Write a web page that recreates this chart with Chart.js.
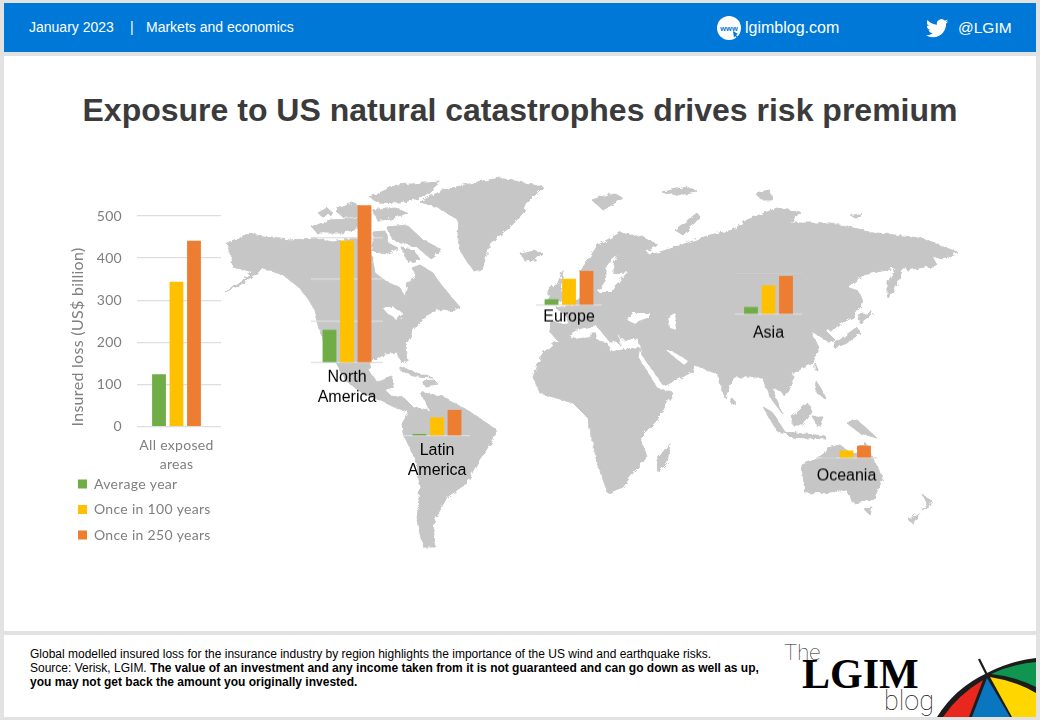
<!DOCTYPE html>
<html>
<head>
<meta charset="utf-8">
<title>Exposure to US natural catastrophes drives risk premium</title>
<script src="https://cdn.jsdelivr.net/npm/chart.js@4"></script>
<style>
    html, body { margin: 0; padding: 0; }
    body { width: 1040px; height: 720px; background: #e2e2e2; position: relative; overflow: hidden; font-family: "Liberation Sans", Arial, sans-serif; }
    .panel { position: absolute; background: #fff; }
    .txt { position: absolute; white-space: nowrap; }
    canvas { position: absolute; }
    svg { position: absolute; left: 0; top: 0; }
</style>
</head>
<body>
<div class="panel" style="left:4px;top:3px;width:1032px;height:49px;background:#0078d7"></div>
<div class="panel" style="left:4px;top:56px;width:1032px;height:575px"></div>
<div class="panel" style="left:4px;top:635px;width:1032px;height:82px"></div>

<div class="txt" style="left:29px;top:19px;font-size:14px;color:#fff">January 2023</div>
<div class="txt" style="left:130px;top:19px;font-size:14px;color:#fff">|</div>
<div class="txt" style="left:146px;top:19px;font-size:14px;color:#fff">Markets and economics</div>
<div class="txt" style="left:745px;top:19px;font-size:16px;color:#fff">lgimblog.com</div>
<div class="txt" style="left:958px;top:19px;font-size:15.5px;color:#fff">@LGIM</div>
<div class="txt" style="left:0;width:1040px;text-align:center;top:92px;font-size:32px;font-weight:bold;color:#3b3b3b">Exposure to US natural catastrophes drives risk premium</div>

<div class="txt" style="left:30px;top:647px;font-size:12px;color:#000">Global modelled insured loss for the insurance industry by region highlights the importance of the US wind and earthquake risks.</div>
<div class="txt" style="left:30px;top:661px;font-size:12px;color:#000">Source: Verisk, LGIM. <b>The value of an investment and any income taken from it is not guaranteed and can go down as well as up,</b></div>
<div class="txt" style="left:30px;top:675px;font-size:12px;color:#000"><b>you may not get back the amount you originally invested.</b></div>

<svg width="1040" height="720" viewBox="0 0 1040 720">
    <defs>
        <filter id="rough" x="-5%" y="-5%" width="110%" height="110%">
            <feTurbulence type="fractalNoise" baseFrequency="0.2" numOctaves="3" seed="4" result="n"/>
            <feDisplacementMap in="SourceGraphic" in2="n" scale="5"/>
        </filter>
    </defs>
    <!-- header icons -->
    <circle cx="729" cy="28" r="12" fill="#fff"/>
    <text x="729" y="30.5" text-anchor="middle" font-size="7.5" font-weight="bold" fill="#0078d7" font-family="Liberation Sans">www</text>
    <path d="M733 31l5 3-2 1 2 2-1 1-2-2-1 2z" fill="#0078d7"/>
    <g transform="translate(926,17) scale(0.93)"><path fill="#fff" d="M23.953 4.57a10 10 0 01-2.825.775 4.958 4.958 0 002.163-2.723c-.951.555-2.005.959-3.127 1.184a4.92 4.92 0 00-8.384 4.482C7.69 8.095 4.067 6.13 1.64 3.162a4.822 4.822 0 00-.666 2.475c0 1.71.87 3.213 2.188 4.096a4.904 4.904 0 01-2.228-.616v.06a4.923 4.923 0 003.946 4.827 4.996 4.996 0 01-2.212.085 4.936 4.936 0 004.604 3.417 9.867 9.867 0 01-6.102 2.105c-.39 0-.779-.023-1.17-.067a13.995 13.995 0 007.557 2.209c9.053 0 13.998-7.496 13.998-13.985 0-.21 0-.42-.015-.63A9.935 9.935 0 0024 4.59z"/></g>

    <!-- world map backdrop, traced by hand -->
    <g filter="url(#rough)">
    <g fill="#c6c6c6" stroke="#c6c6c6" stroke-width="1" stroke-linejoin="round">
        <!-- North and Central America -->
        <polygon points="227,243 250,233 263,237 290,240 313,238 333,242 353,238 363,242 372,257 375,273 387,282 400,288 405,297 408,283 417,277 412,268 420,265 433,273 440,283 452,298 460,307 437,310 423,317 413,330 405,347 407,360 402,363 397,352 380,355 370,363 368,370 377,382 393,377 392,387 385,390 391,396 404,398 414,408 424,409 428,414 418,418 408,411 396,408 382,401 364,394 346,381 336,363 326,350 320,330 315,310 310,302 300,288 283,275 263,268 240,285 225,292 253,272 233,267 230,253"/>
        <!-- Arctic islands -->
        <polygon points="387,227 407,225 423,240 442,250 430,258 417,247 393,240"/>
        <polygon points="373,232 385,231 388,243 398,248 386,254 373,252"/>
        <polygon points="402,248 414,250 420,260 408,262"/>
        <polygon points="370,197 397,185 440,182 423,197 400,203 377,202"/>
        <polygon points="312,227 330,220 360,218 367,227 340,233 317,233"/>
        <polygon points="318,213 327,208 333,213 323,217"/>
        <polygon points="335,210 353,203 368,210 363,217 343,217"/>
        <polygon points="373,210 393,207 407,213 387,220 377,220"/>
        <polygon points="443,300 460,307 450,312 443,308"/>
        <polygon points="400,367 417,373 433,378 417,377 400,370"/>
        <polygon points="422,381 434,380 438,384 425,386"/>
        <!-- Greenland, Iceland -->
        <polygon points="420,202 443,190 473,183 500,178 543,187 527,203 523,213 510,227 490,243 482,270 475,272 468,263 460,250 457,233 458,220 437,207"/>
        <polygon points="520,253 533,250 542,253 535,260 525,261"/>
        <!-- South America -->
        <polygon points="430,410 420,392 443,397 467,410 497,430 493,440 477,463 467,483 447,497 433,523 435,547 423,547 417,520 420,487 417,463 403,433 402,423 410,412"/>
        <!-- Eurasia -->
        <polygon points="580,272 598,245 620,233 643,237 658,245 645,252 650,255 673,248 710,235 733,230 747,220 777,208 800,212 790,223 830,223 877,233 920,238 957,252 947,257 933,258 937,265 907,270 904,265 897,285 888,298 888,282 896,268 863,275 847,287 858,291 863,303 853,317 830,330 825,330 835,340 830,343 810,330 818,347 813,363 793,373 792,385 785,397 780,390 772,388 782,413 770,397 762,377 733,377 725,398 717,373 694,365 692,372 664,386 642,355 640,345 638,338 622,340 618,332 620,345 612,337 606,325 617,342 610,342 596,325 582,328 572,332 570,340 557,340 550,332 551,322 570,325 566,315 556,308 572,305 580,298 590,292"/>
        <polygon points="563,270 560,290 568,300 547,302 557,285"/>
        <polygon points="548,288 557,285 555,295 548,295"/>
        <polygon points="591,333 596,333 596,342 591,342"/>
        <!-- polar islands -->
        <polygon points="592,200 613,193 623,198 603,210"/>
        <polygon points="662,192 687,187 698,192 677,195"/>
        <polygon points="675,230 697,213 700,217 683,235"/>
        <polygon points="755,193 770,190 772,200 762,200"/>
        <polygon points="850,215 863,215 857,218"/>
        <!-- Africa and Madagascar -->
        <polygon points="557,341 583,337 607,343 610,352 640,347 638,357 657,388 673,393 657,420 640,437 647,457 635,470 623,487 608,493 597,463 592,437 587,417 573,403 540,393 533,377 543,353"/>
        <polygon points="670,443 667,463 658,472 657,460"/>
        <!-- Asia islands -->
        <polygon points="763,407 772,412 785,432 778,432"/>
        <polygon points="792,417 808,403 812,412 803,425 793,425"/>
        <polygon points="785,432 825,436 826,439 790,437"/>
        <polygon points="813,417 823,417 818,428"/>
        <polygon points="847,423 857,420 877,438 860,433"/>
        <polygon points="815,380 820,387 827,400 817,393"/>
        <polygon points="833,345 857,327 860,333 847,343 835,348"/>
        <polygon points="858,315 873,313 860,323"/>
        <polygon points="815,363 818,370 815,370"/>
        <polygon points="732,398 736,403 732,405"/>
        <!-- Australia, Tasmania, New Zealand -->
        <polygon points="802,465 822,457 827,448 840,445 853,455 865,442 870,453 883,478 873,500 853,503 847,490 830,492 805,493"/>
        <polygon points="863,508 872,507 870,515"/>
        <polygon points="923,495 933,502 922,510 927,503"/>
        <polygon points="920,512 913,523 908,520"/>
    </g>
    <g fill="#fff">
        <!-- inland seas -->
        <polygon points="618,255 607,265 606,280 598,292 612,292 620,280 628,272 612,274 614,262"/>
        <polygon points="627,320 633,313 652,313 647,318 633,323"/>
        <polygon points="668,317 675,313 677,330 670,328"/>
        <polygon points="667,351 672,351 688,361 684,365 678,360"/>
        <polygon points="383,308 393,307 403,313 397,320 387,313"/>
    </g>
    </g>

    <!-- blog logo: umbrella -->
    <path d="M937 717 Q955 688 987 673 Q1010 661 1036 658 L1036 717 Z" fill="#1c1c1c"/>
    <path d="M991 674 Q1012 664 1036 662 L1036 687 Q1014 676 991 674 Z" fill="#0f9550"/>
    <path d="M990 677 Q1016 681 1036 693 L1036 717 L1012 717 Z" fill="#ffd600"/>
    <path d="M987 678 L1010 717 L972 717 Z" fill="#0a76bf"/>
    <path d="M983 680 L969 717 L943 717 Q958 695 983 680 Z" fill="#e8281f"/>
    <path d="M979 659 L987 675" stroke="#1c1c1c" stroke-width="2.2" fill="none"/>
</svg>

<div class="txt" style="left:784px;top:640px;font-size:22px;font-family:Roboto;font-weight:100;color:#222">The</div>
<div class="txt" style="left:802px;top:650px;font-size:42px;font-family:'Liberation Serif';font-weight:bold;color:#000">LGIM</div>
<div class="txt" style="left:884px;top:685px;font-size:27px;font-family:Roboto;font-weight:100;color:#222">blog</div>

<canvas id="allAreas" style="left:62px;top:208px"></canvas>
<canvas id="northAmerica"></canvas>
<canvas id="europe"></canvas>
<canvas id="latinAmerica"></canvas>
<canvas id="asia"></canvas>
<canvas id="oceania"></canvas>

<script>
const seriesNames = ['Average year', 'Once in 100 years', 'Once in 250 years'];
const seriesColors = ['#70ad47', '#ffc000', '#ed7d31'];

// insured loss, US$ billion: average / 100 years / 250 years
const allAreas = [124, 344, 441];
const northAmerica = [79, 292, 377];
const europe = [15, 64, 83];
const latinAmerica = [5, 45, 63];
const asia = [18, 70, 93];
const oceania = [2, 19, 31];

const yTicks = [0, 100, 200, 300, 400, 500];

const PX_PER_UNIT = 0.418;
const BAR_PITCH = 17.5;
const GRID_COLOR = '#dedede';
const MAIN_FONT = 'Lato';
const GREY = '#7f7f7f';

function barDatasets(values) {
    return seriesNames.map((name, i) => ({
        label: name,
        data: [values[i]],
        backgroundColor: seriesColors[i]
    }));
}

function drawRegion({id, values, lines, left, base, width, axisMax, labelGap}) {
    const canvas = document.getElementById(id);
    const plotH = axisMax * PX_PER_UNIT;
    const labelH = 62;
    canvas.style.left = left + 'px';
    canvas.style.top = (base - plotH) + 'px';
    canvas.style.width = width + 'px';
    canvas.style.height = (plotH + labelH) + 'px';

    new Chart(canvas.getContext('2d'), {
        type: 'bar',
        data: {labels: [lines], datasets: barDatasets(values)},
        options: {
            responsive: false,
            animation: false,
            layout: {padding: 0},
            categoryPercentage: BAR_PITCH * 3 / width,
            barPercentage: 0.79,
            plugins: {legend: {display: false}, tooltip: {enabled: false}},
            scales: {
                x: {
                    grid: {display: false, drawTicks: false},
                    border: {display: false},
                    ticks: {color: '#000', font: {family: 'Liberation Sans', size: 16, lineHeight: 1.22}, padding: labelGap, maxRotation: 0},
                    afterFit: s => { s.height = labelH; s.paddingLeft = 0; s.paddingRight = 0; }
                },
                y: {
                    min: 0,
                    max: axisMax,
                    border: {display: false},
                    ticks: {display: false, stepSize: 100},
                    grid: {
                        drawTicks: false,
                        lineWidth: 1.2,
                        color: c => c.tick.value % 100 === 0 ? GRID_COLOR : 'transparent'
                    },
                    afterFit: s => { s.width = 0; }
                }
            }
        }
    });
}

// main chart with axis, title and legend
function drawMain() {
    const canvas = document.getElementById('allAreas');
    canvas.style.width = '159px';
    canvas.style.height = '357px';
    new Chart(canvas.getContext('2d'), {
        type: 'bar',
        data: {labels: [['All exposed', 'areas']], datasets: barDatasets(allAreas)},
        options: {
            responsive: false,
            animation: false,
            layout: {padding: {top: 8}},
            categoryPercentage: BAR_PITCH * 3 / 84,
            barPercentage: 0.79,
            plugins: {
                tooltip: {enabled: false},
                legend: {
                    position: 'bottom',
                    align: 'start',
                    labels: {
                        boxWidth: 9,
                        boxHeight: 9,
                        padding: 11.5,
                        color: GREY,
                        font: {family: MAIN_FONT, size: 14}
                    }
                }
            },
            scales: {
                x: {
                    grid: {display: false, drawTicks: false},
                    border: {display: false},
                    ticks: {color: GREY, font: {family: MAIN_FONT, size: 14, lineHeight: 1.4}, padding: 9, maxRotation: 0},
                    afterFit: s => { s.height = 52; s.paddingLeft = 0; s.paddingRight = 0; }
                },
                y: {
                    min: 0,
                    max: 500,
                    afterBuildTicks: s => { s.ticks = yTicks.map(v => ({value: v})); },
                    border: {display: false},
                    grid: {drawTicks: false, color: GRID_COLOR, lineWidth: 1.2},
                    ticks: {color: GREY, font: {family: MAIN_FONT, size: 14}, padding: 15},
                    title: {
                        display: true,
                        text: 'Insured loss (US$ billion)',
                        align: 'start',
                        color: GREY,
                        font: {family: MAIN_FONT, size: 16},
                        padding: {top: 6, bottom: 0}
                    },
                    afterFit: s => { s.width = 75; s.paddingTop = 0; s.paddingBottom = 0; }
                }
            }
        },
        plugins: [{
            id: 'nudge',
            // the reference text is slightly spaced out
            beforeUpdate: c => { c.ctx.letterSpacing = '0.3px'; },
            afterLayout: c => {
                c.scales.x._startPixel -= 2.5;
                c.legend.top -= 13;
                c.legend.left += 4.5;
            }
        }]
    });
}

drawMain();
drawRegion({id: 'northAmerica', values: northAmerica, lines: ['North', 'America'], left: 311, base: 363, width: 72, axisMax: 380, labelGap: 5});
drawRegion({id: 'europe', values: europe, lines: ['Europe'], left: 536, base: 306, width: 66, axisMax: 90, labelGap: 2});
drawRegion({id: 'latinAmerica', values: latinAmerica, lines: ['Latin', 'America'], left: 404, base: 436, width: 66, axisMax: 70, labelGap: 5});
drawRegion({id: 'asia', values: asia, lines: ['Asia'], left: 735, base: 315, width: 67, axisMax: 100, labelGap: 9});
drawRegion({id: 'oceania', values: oceania, lines: ['Oceania'], left: 816, base: 459, width: 61, axisMax: 35, labelGap: 8});
</script>
</body>
</html>
